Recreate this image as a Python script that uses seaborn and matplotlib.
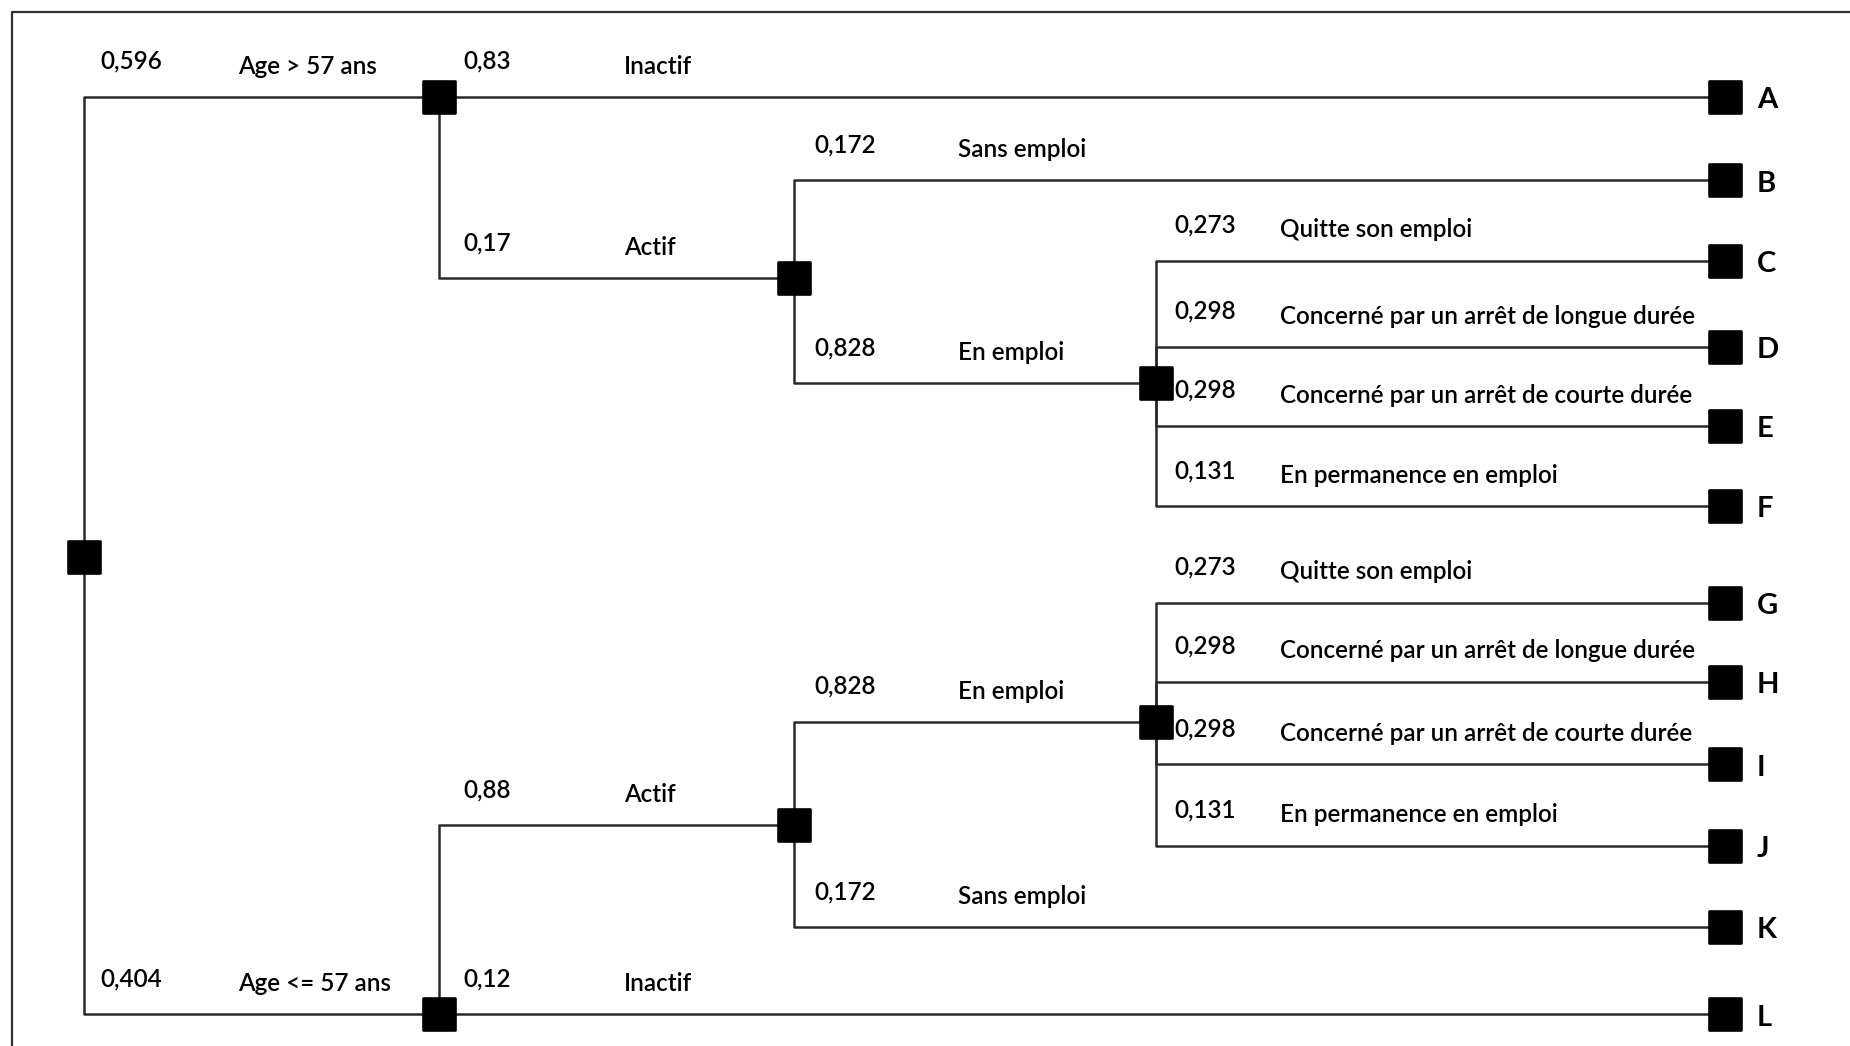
import pandas as pd
import matplotlib.pyplot as plt
import seaborn as sns

# tree: nodes (x level, y position)
node_names = ["root", "N1", "N2", "N3", "N4", "N5", "N6",
              "A", "B", "C", "D", "E", "F", "G", "H", "I", "J", "K", "L"]
node_level = [0, 1, 2, 3, 1, 2, 3, 4, 4, 4, 4, 4, 4, 4, 4, 4, 4, 4, 4]
node_y = [472, 82, 236, 325, 860, 700, 612,
          82, 153, 221, 294, 361, 429, 511, 578, 648, 717, 786, 860]
level_x = [71, 372, 673, 980, 1462]

# edges: parent -> child with probability and label
edge_parent = ["root", "root", "N1", "N1", "N2", "N2", "N3", "N3", "N3", "N3",
               "N4", "N4", "N5", "N5", "N6", "N6", "N6", "N6"]
edge_child = ["N1", "N4", "A", "N2", "B", "N3", "C", "D", "E", "F",
              "L", "N5", "N6", "K", "G", "H", "I", "J"]
edge_prob = ["0,596", "0,404", "0,83", "0,17", "0,172", "0,828",
             "0,273", "0,298", "0,298", "0,131",
             "0,12", "0,88", "0,828", "0,172",
             "0,273", "0,298", "0,298", "0,131"]
edge_label = ["Age > 57 ans", "Age <= 57 ans", "Inactif", "Actif", "Sans emploi", "En emploi",
              "Quitte son emploi", "Concerné par un arrêt de longue durée",
              "Concerné par un arrêt de courte durée", "En permanence en emploi",
              "Inactif", "Actif", "En emploi", "Sans emploi",
              "Quitte son emploi", "Concerné par un arrêt de longue durée",
              "Concerné par un arrêt de courte durée", "En permanence en emploi"]

prob_dx = [14, 21, 17, 15]
label_dx = [131, 157, 139, 105]

nodes = pd.DataFrame({"name": node_names, "level": node_level, "y": node_y})
nodes["x"] = [level_x[l] for l in nodes["level"]]
pos = nodes.set_index("name")

# elbow segments
rows = []
for i, (p, c) in enumerate(zip(edge_parent, edge_child)):
    px, py = pos.loc[p, "x"], pos.loc[p, "y"]
    cx, cy = pos.loc[c, "x"], pos.loc[c, "y"]
    rows += [{"seg": i, "x": px, "y": py}, {"seg": i, "x": px, "y": cy},
             {"seg": i, "x": cx, "y": cy}]
segs = pd.DataFrame(rows)

plt.rcParams["font.family"] = ["Lato", "DejaVu Sans"]
fig = plt.figure(figsize=(18.5, 10.46), dpi=100)
ax = fig.add_axes([0, 0, 1, 1])

# frame
ax.plot([10, 10, 1568], [887, 10, 10], color="#333333", lw=1.6)

sns.lineplot(data=segs, x="x", y="y", units="seg", estimator=None, sort=False,
             color="#2a2a2a", lw=1.8, ax=ax, legend=False)
sns.scatterplot(data=nodes, x="x", y="y", marker="s", s=560, color="black",
                edgecolor="black", ax=ax, legend=False, zorder=5)

for p, c, pr, lab in zip(edge_parent, edge_child, edge_prob, edge_label):
    lv = pos.loc[p, "level"]
    px = pos.loc[p, "x"]
    cy = pos.loc[c, "y"]
    ax.text(px + prob_dx[lv], cy - 30, pr, fontsize=17.5, va="center", ha="left",
            fontweight="semibold")
    ax.text(px + label_dx[lv], cy - 26, lab, fontsize=17.5, va="center", ha="left",
            fontweight="semibold")

leaves = nodes[nodes["level"] == 4]
for _, r in leaves.iterrows():
    ax.text(r["x"] + 27, r["y"] + 3, r["name"], fontsize=21, fontweight="bold",
            va="center", ha="left")

ax.set_xlim(0, 1568)
ax.set_ylim(887, 0)
ax.axis("off")
fig.savefig("out.png", dpi=100, facecolor="white")
